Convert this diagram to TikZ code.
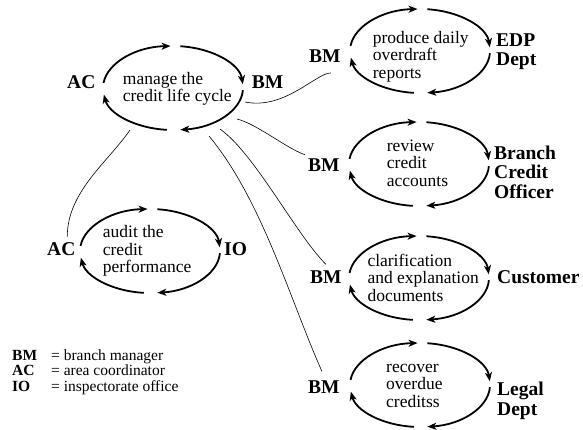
\documentclass[tikz,border=0pt]{standalone}
\usepackage{fontspec}
\setmainfont{Liberation Serif}
\usetikzlibrary{arrows.meta}

\begin{document}
\begin{tikzpicture}[x=1pt,y=1pt,
  cyc/.style={line width=1.8pt, -{Stealth[length=9pt,width=7pt,inset=2.5pt]}},
  link/.style={line width=0.6pt},
  txt/.style={anchor=base west, inner sep=0pt, align=left, font=\fontsize{17.5}{17.5}\selectfont},
  role/.style={anchor=base west, inner sep=0pt, align=left, font=\fontsize{19.5}{19.5}\selectfont\bfseries}]
\useasboundingbox (0,0) rectangle (583,-429);
\coordinate (manage) at (173,-88);
\coordinate (produce) at (420,-51);
\coordinate (review) at (419,-164);
\coordinate (clarify) at (419,-278);
\coordinate (recover) at (420,-385);
\coordinate (audit) at (150,-251);
\foreach \c in {manage,produce,review,clarify,recover,audit}
  \foreach \a/\b in {173/92,84/5,-3/-84,-95/-171}
    \draw[cyc] (\c) ++(\a:70 and 42) arc[start angle=\a, end angle=\b, x radius=70, y radius=42];

\node[txt] (t-manage) at (122.7,-101.7) {manage the\\credit life cycle};
\node[txt] (t-produce) at (372.7,-78.3) {produce daily\\overdraft\\reports};
\node[txt] (t-review) at (386.7,-186) {review\\credit\\accounts};
\node[txt] (t-clarify) at (367.3,-301) {clarification\\and explanation\\documents};
\node[txt] (t-recover) at (386,-407.3) {recover\\overdue\\creditss};
\node[txt] (t-audit) at (102.7,-272.7) {audit the\\credit\\performance};

\node[role] (ac1) at (67,-88.3) {AC};
\node[role] (bm1) at (251.7,-88.3) {BM};
\node[role] (bm2) at (309,-62.7) {BM};
\node[role] (edp) at (496,-65.7) {EDP\\Dept};
\node[role] (bm3) at (308,-171.7) {BM};
\node[role] (bco) at (494,-198.3) {Branch\\Credit\\Officer};
\node[role] (bm4) at (310,-283.3) {BM};
\node[role] (cust) at (497,-283.3) {Customer};
\node[role] (bm5) at (308,-393.3) {BM};
\node[role] (legal) at (497,-415) {Legal\\Dept};
\node[role] (ac2) at (47,-255.7) {AC};
\node[role] (io) at (224,-255.7) {IO};

\coordinate (m-ac) at (130,-130);
\coordinate (m-bm2) at (245,-102);
\coordinate (m-bm3) at (237,-119);
\coordinate (m-bm4) at (220,-129);
\coordinate (m-bm5) at (209,-136);
\draw[link] (m-ac) .. controls +(-22,-32) and +(0,45) .. ([xshift=6pt,yshift=6pt]ac2.north);
\draw[link] (m-bm2) .. controls +(40,-8) and +(-15,0) .. ([xshift=6pt,yshift=-10pt]bm2.south);
\draw[link] (m-bm3) .. controls +(20,-5) and +(-18,6) .. ([xshift=-3pt,yshift=4pt]bm3.north west);
\draw[link] (m-bm4) .. controls +(35,-25) and +(-30,30) .. ([yshift=6pt]bm4.north);
\draw[link] (m-bm5) .. controls +(53,-64) and +(-32,72) .. ([xshift=-2pt,yshift=9pt]bm5.north);

\node[anchor=base west, inner sep=0pt, font=\fontsize{15.5}{15.8}\selectfont] (legend) at (12,-360)
  {\begin{tabular}[t]{@{}l@{\hspace{14pt}}l@{}}
   \textbf{BM} & = branch manager\\
   \textbf{AC} & = area coordinator\\
   \textbf{IO} & = inspectorate office
   \end{tabular}};
\end{tikzpicture}
\end{document}
